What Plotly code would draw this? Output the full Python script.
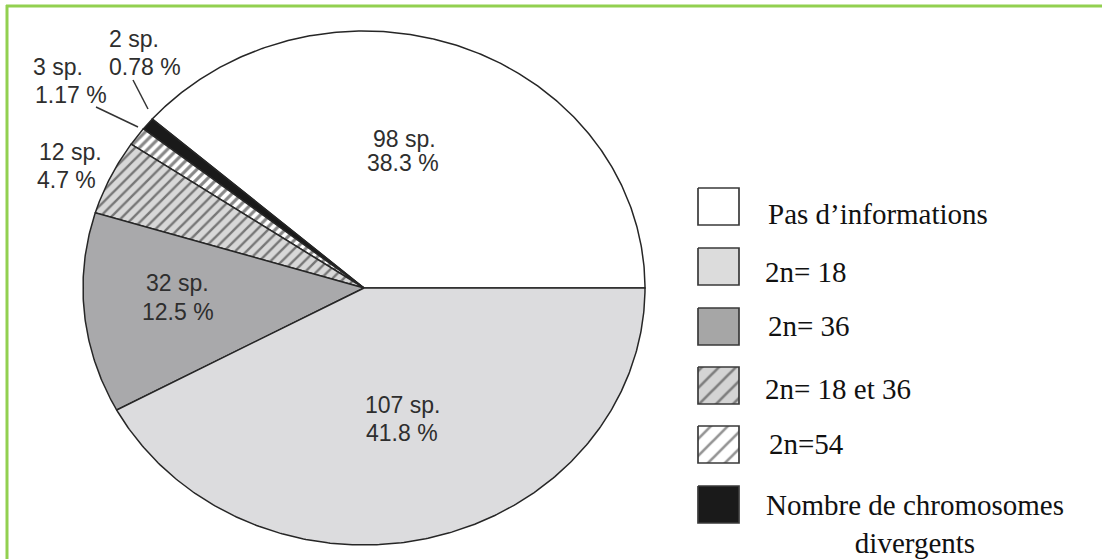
import numpy as np
import plotly.graph_objects as go

# ---- data (pie order: counter-clockwise from 3 o'clock) ----
categories = ["Pas d’informations", "Nombre de chromosomes divergents", "2n=54",
              "2n= 18 et 36", "2n= 36", "2n= 18"]
counts = [98, 2, 3, 12, 32, 107]
percent_labels = ["38.3", "0.78", "1.17", "4.7", "12.5", "41.8"]

# legend order
legend_labels = ["Pas d’informations", "2n= 18", "2n= 36", "2n= 18 et 36", "2n=54",
                 "Nombre de chromosomes<br>divergents"]

# ---- styles ----
W, H = 1102, 559
CX, CY, RX, RY = 364, 288, 281, 257
EDGE = "#262626"
slice_style = {
    "Pas d’informations": dict(fill="#ffffff", pattern=None),
    "Nombre de chromosomes divergents": dict(fill="#1a1a1a", pattern=None),
    "2n=54": dict(fill="#ffffff", pattern=dict(shape="/", bgcolor="#ffffff", fgcolor="#111111", size=7, solidity=0.45)),
    "2n= 18 et 36": dict(fill="#d8d8d8", pattern=dict(shape="/", bgcolor="#d8d8d8", fgcolor="#151515", size=8, solidity=0.3)),
    "2n= 36": dict(fill="#a9a9ab", pattern=None),
    "2n= 18": dict(fill="#dcdcde", pattern=None),
}
legend_style = [
    dict(fill="#ffffff", pattern=None),
    dict(fill="#dcdcdc", pattern=None),
    dict(fill="#a6a6a6", pattern=None),
    dict(fill="#d4d4d4", pattern=dict(shape="/", bgcolor="#d4d4d4", fgcolor="#262626", size=12, solidity=0.22)),
    dict(fill="#ffffff", pattern=dict(shape="/", bgcolor="#ffffff", fgcolor="#262626", size=12, solidity=0.22)),
    dict(fill="#1a1a1a", pattern=None),
]
legend_box_x = (698, 739)
legend_box_tops = [188, 248, 308, 367, 426, 486]
legend_box_h = 37
legend_text_pos = [(766, 214), (763, 272), (766, 326), (763, 389), (767, 444), (915, 524)]

fig = go.Figure()

# ---- pie slices (elliptical, as in the reference) ----
total = sum(counts)
start = 0.0
for cat, c in zip(categories, counts):
    frac = c / total
    t = np.linspace(start, start + frac * 2 * np.pi, max(8, int(frac * 720)))
    xs = np.concatenate([[CX], CX + RX * np.cos(t), [CX]])
    ys = np.concatenate([[CY], CY - RY * np.sin(t), [CY]])
    st = slice_style[cat]
    kw = dict(fillpattern=st["pattern"]) if st["pattern"] else {}
    fig.add_trace(go.Scatter(x=xs, y=ys, mode="lines", fill="toself",
                             fillcolor=st["fill"], line=dict(color=EDGE, width=1.5),
                             hoverinfo="skip", showlegend=False, **kw))
    start += frac * 2 * np.pi

# ---- legend boxes ----
x0, x1 = legend_box_x
for top, st in zip(legend_box_tops, legend_style):
    xs = [x0, x1, x1, x0, x0]
    ys = [top, top, top + legend_box_h, top + legend_box_h, top]
    kw = dict(fillpattern=st["pattern"]) if st["pattern"] else {}
    fig.add_trace(go.Scatter(x=xs, y=ys, mode="lines", fill="toself",
                             fillcolor=st["fill"], line=dict(color="#3a3a3a", width=1.7),
                             hoverinfo="skip", showlegend=False, **kw))

# ---- slice labels ----
label_pos = {
    "Pas d’informations": [(404, 139, "center"), (403, 163, "center")],
    "2n= 18": [(402, 405, "center"), (402, 433, "center")],
    "2n= 36": [(177, 283, "center"), (178, 312, "center")],
    "2n= 18 et 36": [(37, 152, "left"), (35, 180, "left")],
    "2n=54": [(31, 67, "left"), (33, 95, "left")],
    "Nombre de chromosomes divergents": [(107, 39, "left"), (107, 67, "left")],
}
annotations = []
for cat, c, p in zip(categories, counts, percent_labels):
    (xa, ya, anc_a), (xb, yb, anc_b) = label_pos[cat]
    for (xx, yy, anc), txt in [((xa, ya, anc_a), f"{c} sp."), ((xb, yb, anc_b), f"{p} %")]:
        annotations.append(dict(x=xx, y=yy, xref="x", yref="y", text=txt, showarrow=False,
                                xanchor=anc, yanchor="middle",
                                font=dict(family="Liberation Sans, Arial", size=23, color="#2e2e2e")))

for (xx, yy), txt in zip(legend_text_pos, legend_labels):
    multi = "<br>" in txt
    annotations.append(dict(x=xx, y=yy, xref="x", yref="y", text=txt, showarrow=False,
                            xanchor="center" if multi else "left", yanchor="middle",
                            align="center",
                            font=dict(family="Liberation Serif, Times New Roman", size=29, color="#111111")))

shapes = [
    # leader lines
    dict(type="line", xref="x", yref="y", x0=133, y0=80, x1=148, y1=109,
         line=dict(color="#333333", width=1.5)),
    dict(type="line", xref="x", yref="y", x0=96, y0=107, x1=138, y1=127,
         line=dict(color="#333333", width=1.5)),
    # green frame (top and left edges visible)
    dict(type="line", xref="x", yref="y", x0=6, y0=6, x1=W + 5, y1=6,
         line=dict(color="#92d050", width=3)),
    dict(type="line", xref="x", yref="y", x0=7, y0=5, x1=7, y1=H + 5,
         line=dict(color="#92d050", width=3)),
]

fig.update_layout(
    width=W, height=H, margin=dict(l=0, r=0, t=0, b=0),
    paper_bgcolor="white", plot_bgcolor="white",
    xaxis=dict(range=[0, W], visible=False, fixedrange=True),
    yaxis=dict(range=[H, 0], visible=False, fixedrange=True),
    annotations=annotations, shapes=shapes, showlegend=False,
)

fig.write_html("out.html")
